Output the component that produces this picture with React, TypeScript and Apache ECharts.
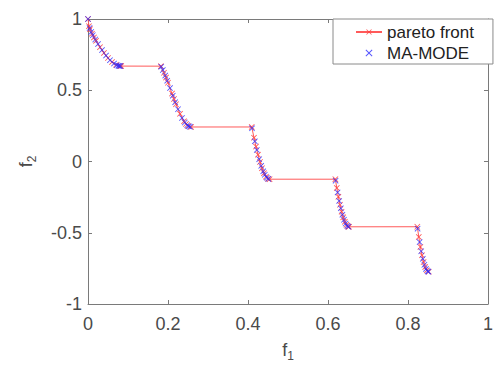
import React, { useEffect, useRef } from "react";
import * as echarts from "echarts";

const paretoF1: number[] = [
  0, 0.0025, 0.005, 0.01, 0.015, 0.02, 0.03, 0.04, 0.05, 0.06, 0.07, 0.08, 0.083,
  0.1822, 0.19, 0.195, 0.2, 0.21, 0.215, 0.22, 0.23, 0.24, 0.245, 0.25, 0.2578,
  0.4093, 0.415, 0.42, 0.425, 0.43, 0.435, 0.44, 0.445, 0.45, 0.4539,
  0.6184, 0.622, 0.626, 0.63, 0.634, 0.638, 0.642, 0.646, 0.65, 0.6525,
  0.8233, 0.827, 0.831, 0.835, 0.839, 0.843, 0.847, 0.8518,
];
const paretoF2: number[] = [
  1, 0.9498, 0.9285, 0.8969, 0.8707, 0.8468, 0.8025, 0.762, 0.7264, 0.698, 0.6788, 0.6701, 0.6696,
  0.669, 0.6228, 0.5889, 0.5528, 0.4768, 0.4387, 0.4017, 0.3343, 0.2819, 0.263, 0.25, 0.2422,
  0.2423, 0.1674, 0.105, 0.0476, -0.0036, -0.0471, -0.0817, -0.1066, -0.1208, -0.1242,
  -0.1243, -0.1852, -0.2476, -0.3034, -0.3518, -0.392, -0.423, -0.4446, -0.4562, -0.4583,
  -0.4578, -0.5295, -0.5992, -0.6578, -0.7054, -0.7409, -0.7636, -0.7733,
];
const modeF1: number[] = [
  0, 0.004, 0.008, 0.012, 0.018, 0.025, 0.035, 0.045, 0.055, 0.065, 0.072, 0.076, 0.078, 0.081,
  0.183, 0.187, 0.193, 0.198, 0.205, 0.212, 0.218, 0.225, 0.235, 0.242, 0.248, 0.252, 0.255,
  0.41, 0.417, 0.422, 0.428, 0.433, 0.438, 0.442, 0.447, 0.451,
  0.619, 0.624, 0.628, 0.632, 0.636, 0.64, 0.644, 0.648, 0.651,
  0.824, 0.829, 0.833, 0.837, 0.841, 0.845, 0.849, 0.851,
];
const modeF2: number[] = [
  1, 0.9363, 0.9086, 0.8861, 0.8562, 0.8242, 0.7817, 0.7435, 0.7112, 0.6871, 0.6762, 0.6723, 0.671, 0.6699,
  0.6653, 0.6418, 0.6028, 0.5674, 0.5151, 0.4616, 0.4163, 0.3666, 0.3058, 0.2737, 0.2545, 0.2465, 0.2431,
  0.233, 0.1419, 0.0814, 0.016, -0.0307, -0.0691, -0.0929, -0.1136, -0.1224,
  -0.1347, -0.217, -0.2764, -0.3286, -0.373, -0.4086, -0.4351, -0.4517, -0.4575,
  -0.4717, -0.5656, -0.6297, -0.6831, -0.7247, -0.7538, -0.77, -0.7731,
];
const xTicks = { min: 0, max: 1, interval: 0.2 };
const yTicks = { min: -1, max: 1, interval: 0.5 };

const X_PATH =
  "path://M0,1L1,0L5,4L9,0L10,1L6,5L10,9L9,10L5,6L1,10L0,9L4,5Z";

const FONT = "'Liberation Sans', Arial, Helvetica, sans-serif";
const AX = "#7a7a7a";
const TXT = "#4a4a4a";

export default function App() {
  const ref = useRef<HTMLDivElement>(null);
  useEffect(() => {
    if (!ref.current) return;
    const chart = echarts.init(ref.current, undefined, { renderer: "svg" });
    const axisCommon = {
      axisLine: { show: true, onZero: false, lineStyle: { color: AX, width: 1 } },
      axisTick: { show: true, inside: true, length: 4, lineStyle: { color: AX } },
      splitLine: { show: false },
    };
    chart.setOption({
      animation: false,
      backgroundColor: "#ffffff",
      textStyle: { fontFamily: FONT },
      grid: { left: 88, right: 5, top: 19, bottom: 61, containLabel: false },
      legend: {
        orient: "vertical",
        left: 333,
        top: 19,
        padding: [4, 19, 2, 22],
        itemGap: 3,
        itemWidth: 26,
        itemHeight: 7,
        borderColor: "#8a8a8a",
        borderWidth: 1,
        backgroundColor: "#ffffff",
        textStyle: { fontSize: 17, lineHeight: 18, color: "#222", fontFamily: FONT },
        data: [{ name: "pareto front" }, { name: "MA-MODE" }],
      },
      xAxis: [
        {
          type: "value",
          ...xTicks,
          position: "bottom",
          ...axisCommon,
          axisLabel: { color: TXT, fontSize: 18, margin: 11, fontFamily: FONT },
          name: "f{s|1}",
          nameLocation: "middle",
          nameGap: 34,
          nameTextStyle: {
            color: TXT,
            fontSize: 18,
            fontFamily: FONT,
            rich: { s: { fontSize: 12, color: TXT, fontFamily: FONT, padding: [12, 0, 0, 0] } },
          },
        },
        { type: "value", ...xTicks, position: "top", ...axisCommon, axisLabel: { show: false } },
      ],
      yAxis: [
        {
          type: "value",
          ...yTicks,
          position: "left",
          ...axisCommon,
          axisLabel: { color: TXT, fontSize: 18, margin: 6, fontFamily: FONT },
          name: "f{s|2}",
          nameLocation: "middle",
          nameGap: 50,
          nameRotate: 90,
          nameTextStyle: {
            color: TXT,
            fontSize: 18,
            fontFamily: FONT,
            rich: { s: { fontSize: 12, color: TXT, fontFamily: FONT, padding: [12, 0, 0, 0] } },
          },
        },
        { type: "value", ...yTicks, position: "right", ...axisCommon, axisLabel: { show: false } },
      ],
      series: [
        {
          name: "pareto front",
          type: "line",
          data: paretoF1.map((x, i) => [x, paretoF2[i]]),
          symbol: X_PATH,
          symbolSize: 6,
          showSymbol: true,
          lineStyle: { color: "#ff5a5a", width: 1 },
          itemStyle: { color: "#ff3b3b", opacity: 0.85 },
          z: 2,
        },
        {
          name: "MA-MODE",
          type: "scatter",
          data: modeF1.map((x, i) => [x, modeF2[i]]),
          symbol: X_PATH,
          symbolSize: 6,
          itemStyle: { color: "#2b2bff", opacity: 0.8 },
          z: 3,
        },
      ],
    });
    return () => chart.dispose();
  }, []);
  return (
    <div ref={ref} style={{ position: "absolute", left: 0, top: 0, width: 496, height: 367 }} />
  );
}
